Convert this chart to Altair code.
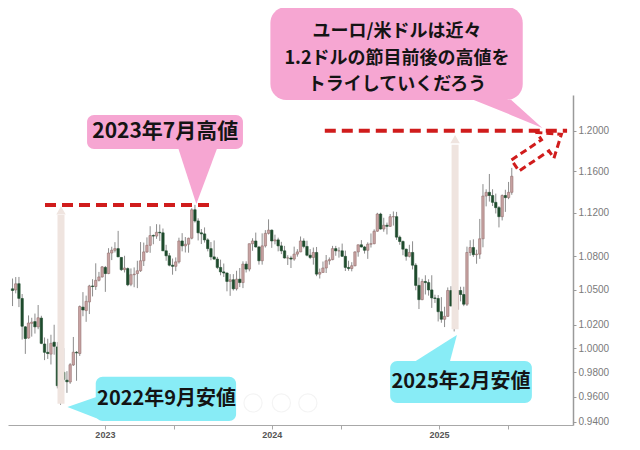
import altair as alt
import pandas as pd

# ---------------- weekly EUR/USD candles ----------------
week_start = "2022-06-13"
opens = [1.0510, 1.0500, 1.0555, 1.0425, 1.0180, 1.0085, 1.0210, 1.0225, 1.0180, 1.0255,
         1.0035, 0.9965, 0.9950, 1.0050, 1.0010, 0.9680, 0.9800, 0.9735, 0.9720, 0.9860,
         0.9965, 0.9955, 1.0350, 1.0320, 1.0395, 1.0535, 1.0530, 1.0585, 1.0615, 1.0700,
         1.0645, 1.0830, 1.0855, 1.0870, 1.0790, 1.0680, 1.0690, 1.0550, 1.0635, 1.0645,
         1.0670, 1.0760, 1.0840, 1.0900, 1.0990, 1.0985, 1.1020, 1.1015, 1.0850, 1.0805,
         1.0720, 1.0710, 1.0750, 1.0940, 1.0895, 1.0910, 1.0965, 1.1230, 1.1125, 1.1015,
         1.1005, 1.0950, 1.0870, 1.0795, 1.0775, 1.0700, 1.0660, 1.0650, 1.0575, 1.0590,
         1.0510, 1.0595, 1.0565, 1.0730, 1.0685, 1.0915, 1.0940, 1.0885, 1.0760, 1.0895,
         1.1010, 1.1040, 1.0940, 1.0950, 1.0895, 1.0850, 1.0785, 1.0785, 1.0775, 1.0820,
         1.0840, 1.0940, 1.0890, 1.0810, 1.0790, 1.0835, 1.0640, 1.0655, 1.0695, 1.0760,
         1.0770, 1.0870, 1.0850, 1.0850, 1.0800, 1.0700, 1.0690, 1.0715, 1.0840, 1.0905,
         1.0885, 1.0855, 1.0910, 1.0915, 1.1030, 1.1190, 1.1050, 1.1085, 1.1075, 1.1165,
         1.1165, 1.0975, 1.0935, 1.0865, 1.0800, 1.0835, 1.0720, 1.0540, 1.0415, 1.0575,
         1.0565, 1.0500, 1.0430, 1.0425, 1.0310, 1.0245, 1.0270, 1.0495, 1.0250, 1.0330,
         1.0495, 1.0460, 1.0375, 1.0835, 1.0880, 1.0815, 1.0820, 1.0960, 1.1360, 1.1395,
         1.1365, 1.1300, 1.1250, 1.1165, 1.1365, 1.1345, 1.1395]
highs = [1.0601, 1.0614, 1.0615, 1.0464, 1.0187, 1.0278, 1.0258, 1.0294, 1.0368, 1.0275,
         1.0090, 1.0079, 1.0113, 1.0198, 1.0051, 0.9853, 1.0000, 0.9809, 0.9875, 1.0094,
         0.9976, 1.0364, 1.0481, 1.0450, 1.0545, 1.0595, 1.0737, 1.0660, 1.0713, 1.0713,
         1.0874, 1.0887, 1.0929, 1.1033, 1.0792, 1.0805, 1.0700, 1.0691, 1.0700, 1.0760,
         1.0930, 1.0925, 1.0973, 1.1076, 1.1000, 1.1095, 1.1092, 1.1055, 1.0905, 1.0830,
         1.0780, 1.0790, 1.0970, 1.1012, 1.0976, 1.0970, 1.1245, 1.1276, 1.1150, 1.1050,
         1.1065, 1.0965, 1.0930, 1.0945, 1.0795, 1.0770, 1.0735, 1.0655, 1.0640, 1.0640,
         1.0670, 1.0695, 1.0755, 1.0755, 1.0915, 1.0965, 1.1017, 1.0895, 1.1010, 1.1040,
         1.1140, 1.1045, 1.0998, 1.0970, 1.0932, 1.0895, 1.0810, 1.0805, 1.0888, 1.0865,
         1.0981, 1.0964, 1.0942, 1.0866, 1.0880, 1.0885, 1.0690, 1.0753, 1.0812, 1.0790,
         1.0895, 1.0895, 1.0882, 1.0916, 1.0852, 1.0760, 1.0747, 1.0845, 1.0907, 1.0948,
         1.0895, 1.0927, 1.1009, 1.1047, 1.1201, 1.1202, 1.1155, 1.1110, 1.1190, 1.1214,
         1.1210, 1.0990, 1.0945, 1.0870, 1.0905, 1.0937, 1.0738, 1.0610, 1.0598, 1.0630,
         1.0594, 1.0630, 1.0458, 1.0455, 1.0437, 1.0353, 1.0522, 1.0533, 1.0442, 1.0505,
         1.0528, 1.0528, 1.0888, 1.0947, 1.0955, 1.0860, 1.1144, 1.1474, 1.1424, 1.1572,
         1.1425, 1.1383, 1.1265, 1.1375, 1.1420, 1.1495, 1.1631]
lows = [1.0359, 1.0470, 1.0350, 1.0072, 0.9952, 1.0080, 1.0097, 1.0123, 1.0160, 1.0033,
        0.9900, 0.9910, 0.9864, 0.9945, 0.9668, 0.9536, 0.9723, 0.9632, 0.9705, 0.9852,
        0.9730, 0.9935, 1.0271, 1.0223, 1.0290, 1.0443, 1.0500, 1.0575, 1.0610, 1.0483,
        1.0640, 1.0766, 1.0835, 1.0794, 1.0669, 1.0655, 1.0533, 1.0533, 1.0524, 1.0516,
        1.0660, 1.0713, 1.0830, 1.0832, 1.0910, 1.0960, 1.0940, 1.0850, 1.0760, 1.0710,
        1.0635, 1.0667, 1.0735, 1.0845, 1.0835, 1.0833, 1.0955, 1.1110, 1.0945, 1.0912,
        1.0925, 1.0845, 1.0765, 1.0770, 1.0685, 1.0630, 1.0615, 1.0488, 1.0448, 1.0495,
        1.0495, 1.0525, 1.0516, 1.0655, 1.0665, 1.0850, 1.0880, 1.0725, 1.0725, 1.0880,
        1.1000, 1.0877, 1.0909, 1.0845, 1.0820, 1.0780, 1.0722, 1.0695, 1.0760, 1.0797,
        1.0838, 1.0873, 1.0800, 1.0775, 1.0725, 1.0622, 1.0601, 1.0653, 1.0650, 1.0725,
        1.0765, 1.0805, 1.0788, 1.0795, 1.0668, 1.0670, 1.0665, 1.0710, 1.0797, 1.0880,
        1.0825, 1.0777, 1.0880, 1.0910, 1.1025, 1.1045, 1.1025, 1.1000, 1.1070, 1.1082,
        1.0950, 1.0905, 1.0810, 1.0761, 1.0790, 1.0682, 1.0497, 1.0333, 1.0410, 1.0460,
        1.0450, 1.0343, 1.0386, 1.0226, 1.0215, 1.0178, 1.0266, 1.0355, 1.0141, 1.0285,
        1.0400, 1.0358, 1.0360, 1.0805, 1.0795, 1.0733, 1.0777, 1.0882, 1.1262, 1.1307,
        1.1265, 1.1195, 1.1065, 1.1130, 1.1210, 1.1330, 1.1372]
closes = [1.0495, 1.0554, 1.0426, 1.0185, 1.0081, 1.0213, 1.0220, 1.0180, 1.0258, 1.0040,
          0.9965, 0.9955, 1.0040, 1.0015, 0.9690, 0.9802, 0.9740, 0.9722, 0.9862, 0.9966,
          0.9960, 1.0355, 1.0325, 1.0400, 1.0535, 1.0530, 1.0585, 1.0615, 1.0705, 1.0645,
          1.0830, 1.0855, 1.0870, 1.0795, 1.0680, 1.0695, 1.0545, 1.0635, 1.0640, 1.0670,
          1.0760, 1.0840, 1.0900, 1.0990, 1.0985, 1.1020, 1.1015, 1.0850, 1.0805, 1.0720,
          1.0710, 1.0750, 1.0940, 1.0895, 1.0910, 1.0965, 1.1230, 1.1125, 1.1015, 1.1005,
          1.0950, 1.0870, 1.0795, 1.0775, 1.0700, 1.0660, 1.0650, 1.0575, 1.0590, 1.0510,
          1.0595, 1.0565, 1.0730, 1.0685, 1.0915, 1.0940, 1.0885, 1.0760, 1.0895, 1.1010,
          1.1040, 1.0940, 1.0950, 1.0895, 1.0850, 1.0785, 1.0785, 1.0775, 1.0820, 1.0840,
          1.0940, 1.0890, 1.0810, 1.0790, 1.0835, 1.0640, 1.0655, 1.0695, 1.0760, 1.0770,
          1.0870, 1.0850, 1.0850, 1.0800, 1.0700, 1.0690, 1.0715, 1.0840, 1.0905, 1.0885,
          1.0855, 1.0910, 1.0915, 1.1030, 1.1190, 1.1050, 1.1085, 1.1075, 1.1165, 1.1165,
          1.0975, 1.0935, 1.0865, 1.0800, 1.0835, 1.0720, 1.0540, 1.0415, 1.0575, 1.0565,
          1.0500, 1.0430, 1.0425, 1.0310, 1.0245, 1.0270, 1.0495, 1.0360, 1.0330, 1.0495,
          1.0460, 1.0375, 1.0835, 1.0880, 1.0815, 1.0820, 1.0960, 1.1360, 1.1395, 1.1365,
          1.1300, 1.1250, 1.1165, 1.1365, 1.1345, 1.1395, 1.1550]

y_ticks = [0.94, 0.96, 0.98, 1.00, 1.02, 1.05, 1.08, 1.12, 1.16, 1.20]

# ---------------- annotations (data coordinates) ----------------
levels = [1.1276, 1.2000]
level_start = ["2022-08-23", "2024-04-26"]
level_end = ["2023-08-19", "2025-10-08"]

band_dates = ["2022-09-27", "2025-02-05"]
band_low = [0.9545, 1.0160]
band_high = [1.1180, 1.1860]
band_tip = [1.1225, 1.1915]

box_names = ["high2023", "big", "low2022", "low2025"]
box_x1 = ["2022-11-23", "2023-12-29", "2022-12-12", "2024-09-16"]
box_x2 = ["2023-10-30", "2025-07-03", "2023-10-15", "2025-07-23"]
box_y1 = [1.2159, 1.3311, 0.9762, 0.9893]
box_y2 = [1.1817, 1.2313, 0.9408, 0.9551]
box_fill = ["pink", "pink", "cyan", "cyan"]

ptr_group = ["high2023"] * 3 + ["big"] * 3 + ["low2022"] * 2 + ["low2025"] * 3
ptr_date = ["2023-06-11", "2023-07-20", "2023-09-03",
            "2025-03-18", "2025-06-08", "2025-08-15",
            "2022-10-11", "2022-12-29",
            "2024-11-11", "2025-01-25", "2025-02-09"]
ptr_ya = [1.1817, 1.1817, 1.1817, 1.2313, 1.2313, 1.2027, 0.9519, 0.9618, 0.9893, 1.0075, 1.0111]
ptr_yb = [1.1817, 1.1285, 1.1817, 1.2313, 1.2157, 1.2027, 0.9519, 0.9408, 0.9893, 0.9893, 1.0111]
ptr_fill = ["pink"] * 6 + ["cyan"] * 5

label_text = ["2023年7月高値", "ユーロ/米ドルは近々", "1.2ドルの節目前後の高値を",
              "トライしていくだろう", "2022年9月安値", "2025年2月安値"]
label_date = ["2023-05-13", "2024-10-01", "2024-10-01", "2024-10-01", "2023-05-16", "2025-02-18"]
label_y = [1.1987, 1.3035, 1.2743, 1.2469, 0.9583, 0.9721]
label_size = [21, 18, 18, 18, 20, 20]

arrow_date = ["2025-08-06"]
arrow_y = [1.1807]

nav_dates = ["2023-11-21", "2024-01-22", "2024-03-20"]
nav_y = [0.9551, 0.9551, 0.9551]

# ---------------- styles ----------------
RED = "#d01c1c"
PINK = "#f6a6d2"
CYAN = "#88ecf6"
UP = "#c9a3a3"
UP_EDGE = "#94706f"
DOWN = "#1f4b2d"
WICK = "#8c8c8c"
BAND = "#efe4df"

XS = alt.Scale(domain=[alt.DateTime(year=2022, month=6, date=14),
                       alt.DateTime(year=2025, month=10, date=10)])
YS = alt.Scale(type="log", domain=[0.9376, 1.2364], nice=False, zero=False)

x_tick_values = [alt.DateTime(year=2023, month=1, date=1), alt.DateTime(year=2023, month=6, date=1),
                 alt.DateTime(year=2024, month=1, date=1), alt.DateTime(year=2024, month=6, date=1),
                 alt.DateTime(year=2025, month=1, date=1), alt.DateTime(year=2025, month=6, date=1)]

candles = pd.DataFrame({
    "date": pd.date_range(week_start, periods=len(opens), freq="7D"),
    "open": opens, "high": highs, "low": lows, "close": closes,
})
candles["dir"] = ["up" if c >= o else "down" for o, c in zip(opens, closes)]

lev_df = pd.DataFrame({"x1": pd.to_datetime(level_start), "x2": pd.to_datetime(level_end), "y": levels})
band_df = pd.DataFrame({"date": pd.to_datetime(band_dates), "lo": band_low, "hi": band_high, "tip": band_tip})
box_df = pd.DataFrame({"name": box_names, "x1": pd.to_datetime(box_x1), "x2": pd.to_datetime(box_x2),
                       "y1": box_y1, "y2": box_y2, "fill": box_fill})
ptr_df = pd.DataFrame({"grp": ptr_group, "date": pd.to_datetime(ptr_date), "ya": ptr_ya,
                       "yb": ptr_yb, "fill": ptr_fill})
lab_df = pd.DataFrame({"text": label_text, "date": pd.to_datetime(label_date), "y": label_y,
                       "size": label_size})
arr_df = pd.DataFrame({"date": pd.to_datetime(arrow_date), "y": arrow_y})
nav_df = pd.DataFrame({"date": pd.to_datetime(nav_dates), "y": nav_y})

X_AXIS = alt.Axis(values=x_tick_values,
                  labelExpr="month(datum.value) == 0 ? timeFormat(datum.value, '%Y') : ''",
                  grid=False, domainColor="#a8a8a8", domainWidth=1.2,
                  tickColor="#a8a8a8", tickSize=4, labelColor="#555555",
                  labelFontSize=9, labelFontWeight="bold", labelFont="Liberation Sans",
                  labelPadding=1, labelFlush=False)
Y_AXIS = alt.Axis(orient="right", values=y_ticks, format=".4f", grid=False,
                  domainColor="#9a9a9a", domainWidth=1.5, tickColor="#9a9a9a",
                  tickSize=3, labelColor="#7a7a7a", labelFontSize=10,
                  labelFont="Liberation Sans", labelPadding=2)


def xenc(field):
    return alt.X(field, scale=XS, title=None, axis=X_AXIS)


def yenc(field):
    return alt.Y(field, scale=YS, title=None, axis=Y_AXIS)


# faint vertical arrows
bands = alt.Chart(band_df).mark_rule(color=BAND, strokeWidth=7).encode(
    x=xenc("date:T"), y=yenc("lo:Q"), y2="hi:Q",
)
band_tips = alt.Chart(band_df).mark_point(shape="triangle-up", filled=True, color=BAND,
                                          size=90, opacity=1).encode(
    x=xenc("date:T"), y=yenc("tip:Q"),
)

nav = alt.Chart(nav_df).mark_point(shape="circle", filled=False, color="#f4f4f4",
                                   strokeWidth=1.2, size=330, opacity=1).encode(
    x=xenc("date:T"), y=yenc("y:Q"),
)

wicks = alt.Chart(candles).mark_rule(color=WICK, strokeWidth=1, clip=True).encode(
    x=xenc("date:T"), y=yenc("low:Q"), y2="high:Q",
)

up_bodies = alt.Chart(candles).transform_filter("datum.dir == 'up'").mark_bar(
    size=2.4, clip=True, strokeWidth=0.6, color=UP, stroke=UP_EDGE).encode(
    x=xenc("date:T"), y=yenc("open:Q"), y2="close:Q",
)
down_bodies = alt.Chart(candles).transform_filter("datum.dir == 'down'").mark_bar(
    size=2.4, clip=True, strokeWidth=0.6, color=DOWN, stroke=DOWN).encode(
    x=xenc("date:T"), y=yenc("open:Q"), y2="close:Q",
)

lev_lines = alt.Chart(lev_df).mark_rule(color=RED, strokeWidth=4, strokeDash=[11, 6]).encode(
    x=xenc("x1:T"), x2="x2:T", y=yenc("y:Q"),
)

arrow_path = "M -1 -0.24 L 0.3 -0.24 L 0.3 -0.56 L 1 0 L 0.3 0.56 L 0.3 0.24 L -1 0.24 Z"
dash_arrow = alt.Chart(arr_df).mark_point(shape=arrow_path, size=3100, angle=326, filled=False,
                                          color=RED, strokeWidth=3, strokeDash=[7, 4],
                                          opacity=1).encode(
    x=xenc("date:T"), y=yenc("y:Q"),
)


def pointer_layer(fill, color):
    return alt.Chart(ptr_df).transform_filter(f"datum.fill == '{fill}'").mark_area(
        opacity=1, interpolate="linear", color=color).encode(
        x=xenc("date:T"), y=yenc("ya:Q"), y2="yb:Q", detail="grp:N",
    )


def box_layer(cond, color, radius):
    return alt.Chart(box_df).transform_filter(cond).mark_rect(
        cornerRadius=radius, opacity=1, color=color).encode(
        x=xenc("x1:T"), x2="x2:T", y=yenc("y1:Q"), y2="y2:Q",
    )


pink_ptr = pointer_layer("pink", PINK)
cyan_ptr = pointer_layer("cyan", CYAN)
pink_small = box_layer("datum.name == 'high2023'", PINK, 7)
pink_big = box_layer("datum.name == 'big'", PINK, 16)
cyan_boxes = box_layer("datum.fill == 'cyan'", CYAN, 7)

labels = alt.Chart(lab_df).mark_text(font="Noto Sans CJK JP", fontWeight="bold", color="#141414",
                                     align="center", baseline="middle").encode(
    x=xenc("date:T"), y=yenc("y:Q"),
    text="text:N",
    size=alt.Size("size:Q", scale=None, legend=None),
)

chart = alt.layer(
    wicks, up_bodies, down_bodies, bands, band_tips, nav, lev_lines, dash_arrow,
    pink_ptr, cyan_ptr, pink_small, pink_big, cyan_boxes, labels,
).properties(
    width=565, height=330,
    padding={"left": 0, "top": 87, "right": 55, "bottom": 13},
    autosize=alt.AutoSizeParams(type="none"),
    background="white",
).configure_view(strokeWidth=0)

chart.save("out.html", embed_options={"renderer": "svg", "actions": False})
